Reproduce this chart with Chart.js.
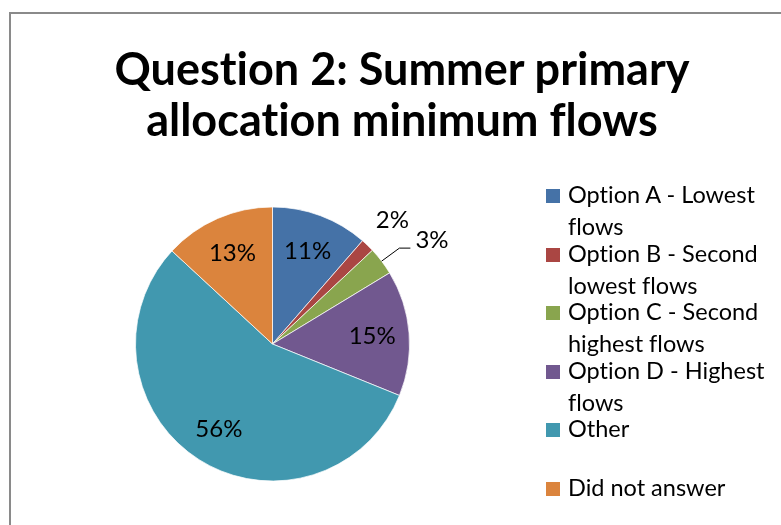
<!DOCTYPE html>
<html>
<head>
<meta charset="utf-8">
<script src="https://cdn.jsdelivr.net/npm/chart.js@4.4.1/dist/chart.umd.min.js"></script>
<style>
  body { margin: 0; background: #fff; }
  #wrap { position: relative; width: 781px; height: 525px; overflow: hidden; font-family: Lato, "Open Sans", sans-serif; color: #000; font-variant-ligatures: none; }
  #frame { position: absolute; left: 9px; top: 12px; width: 900px; height: 700px; border: 2px solid #8a8a8a; }
  #title { position: absolute; left: 102px; width: 600px; top: 43px; text-align: center; font-weight: bold; font-size: 45px; line-height: 51px; }
  #mycanvas { position: absolute; left: 0; top: 0; }
  #legend { position: absolute; left: 546px; top: 178px; font-size: 23.5px; line-height: 32px; }
  #legend .item { position: relative; height: 58.5px; padding-left: 22px; white-space: nowrap; }
  #legend .box { position: absolute; left: 0; top: 11px; width: 14px; height: 14px; }
</style>
</head>
<body>
<div id="wrap">
  <div id="frame"></div>
  <canvas id="mycanvas" width="781" height="525"></canvas>
  <div id="title"></div>
  <div id="legend"></div>
</div>
<script>
var titleLines = ['Question 2: Summer primary', 'allocation minimum flows'];
var categories = [
    ['Option A - Lowest', 'flows'],
    ['Option B - Second', 'lowest flows'],
    ['Option C - Second', 'highest flows'],
    ['Option D - Highest', 'flows'],
    ['Other'],
    ['Did not answer']
];
// share of answers in percent
var shares = [11.4, 1.6, 3.3, 14.8, 55.7, 13.1];
var colors = ['#4572A7', '#AA4643', '#89A54E', '#71588F', '#4198AF', '#DB843D'];

document.getElementById('title').innerHTML = titleLines.join('<br>');

// percentage labels, small slices go outside and get pushed sideways
var pieLabels = {
    id: 'pieLabels',
    afterDatasetsDraw: function(chart) {
        var ctx = chart.ctx;
        var meta = chart.getDatasetMeta(0);
        var data = chart.data.datasets[0].data;
        var total = data.reduce(function(a, b) { return a + b; }, 0);
        var placed = [];
        ctx.save();
        ctx.font = '24px Lato, "Open Sans", sans-serif';
        ctx.fillStyle = '#000';
        ctx.strokeStyle = '#000';
        ctx.lineWidth = 1;
        ctx.textAlign = 'center';
        ctx.textBaseline = 'alphabetic';
        var h = 17;
        meta.data.forEach(function(arc, i) {
            var p = arc.getProps(['x', 'y', 'startAngle', 'endAngle', 'outerRadius'], true);
            var pct = data[i] / total * 100;
            var text = Math.round(pct) + '%';
            var w = ctx.measureText(text).width;
            var mid = (p.startAngle + p.endAngle) / 2;
            var R = p.outerRadius;
            var r = pct >= 5 ? R * 0.73 : R * 1.26;
            var x = p.x + Math.cos(mid) * r;
            var y = p.y + Math.sin(mid) * r;
            if (pct < 5) {
                var pushed = false;
                var dir = Math.cos(mid) >= 0 ? 1 : -1;
                var hit = function() {
                    return placed.some(function(b) {
                        return x - w / 2 < b.r + 6 && x + w / 2 > b.l - 6 &&
                               y - h / 2 < b.b + 6 && y + h / 2 > b.t - 6;
                    });
                };
                while (hit()) { x += dir; pushed = true; }
                placed.push({l: x - w / 2, r: x + w / 2, t: y - h / 2, b: y + h / 2});
                if (pushed) {
                    var left = x - w / 2;
                    var bottom = y + h / 2;
                    ctx.beginPath();
                    ctx.moveTo(p.x + Math.cos(mid) * R, p.y + Math.sin(mid) * R);
                    ctx.lineTo(left - 16, bottom);
                    ctx.lineTo(left - 5, bottom);
                    ctx.stroke();
                }
            }
            ctx.fillText(text, x, y + h / 2);
        });
        ctx.restore();
    }
};

var ctx = document.getElementById('mycanvas');
var myChart = new Chart(ctx, {
    type: 'pie',
    data: {
        labels: categories,
        datasets: [{
            data: shares,
            backgroundColor: colors,
            borderColor: 'rgba(255, 255, 255, 0.7)',
            borderWidth: 1,
            hoverOffset: 0,
            radius: 137
        }]
    },
    options: {
        responsive: false,
        animation: false,
        layout: { padding: { left: 100, right: 336, top: 170, bottom: 7 } },
        plugins: {
            legend: { display: false },
            title: { display: false }
        }
    },
    plugins: [pieLabels]
});

// legend on the right, built from the chart data
var legendHtml = '';
myChart.data.labels.forEach(function(lines, i) {
    legendHtml += '<div class="item"><span class="box" style="background:' +
        myChart.data.datasets[0].backgroundColor[i] + '"></span>' + lines.join('<br>') + '</div>';
});
document.getElementById('legend').innerHTML = legendHtml;
</script>
</body>
</html>
